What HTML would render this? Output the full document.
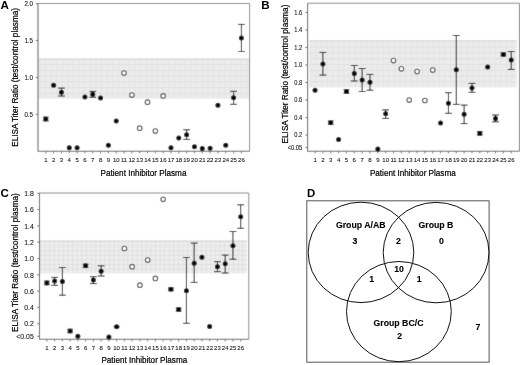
<!DOCTYPE html>
<html><head><meta charset="utf-8"><style>
html,body{margin:0;padding:0;background:#fff;width:520px;height:365px;overflow:hidden}
svg{display:block;will-change:transform}
text{font-family:"Liberation Sans", sans-serif}
</style></head><body>
<svg width="520" height="365" viewBox="0 0 520 365" font-family='"Liberation Sans", sans-serif'>
<defs><filter id="soft" x="0" y="0" width="520" height="365" filterUnits="userSpaceOnUse"><feConvolveMatrix order="3" kernelMatrix="1 2 1 2 28.0 2 1 2 1" edgeMode="duplicate"/></filter></defs>

<defs>
<pattern id="patA" x="39.5" y="58.6" width="5.6" height="5.7" patternUnits="userSpaceOnUse">
<rect width="5.6" height="5.7" fill="#ececec"/>
<rect x="0" y="0" width="5.6" height="1" fill="#dfdfdf"/>
<rect x="0" y="0" width="0.9" height="5.7" fill="#e3e3e3"/>
</pattern>
<pattern id="patB" x="310" y="40.7" width="5.6" height="5.8" patternUnits="userSpaceOnUse">
<rect width="5.6" height="5.8" fill="#ececec"/>
<rect x="0" y="0" width="5.6" height="1" fill="#dfdfdf"/>
<rect x="0" y="0" width="0.9" height="5.8" fill="#e3e3e3"/>
</pattern>
<pattern id="patC" x="40" y="240.9" width="4.6" height="4.6" patternUnits="userSpaceOnUse">
<rect width="4.6" height="4.6" fill="#eeeeee"/>
<rect x="0" y="0" width="4.6" height="1" fill="#e0e0e0"/>
<rect x="0" y="0" width="1" height="4.6" fill="#e0e0e0"/>
</pattern>
</defs>

<g filter="url(#soft)">
<rect width="520" height="365" fill="#fff"/>
<rect x="38.5" y="58.9" width="210.6" height="39.6" fill="url(#patA)"/>
<line x1="38.5" y1="58.9" x2="249.1" y2="58.9" stroke="#d0d0d0" stroke-width="0.8"/>
<path d="M38.0 3.5 H249.6 V151.2" fill="none" stroke="#8a8a8a" stroke-width="1"/>
<path d="M38.0 3.5 V151.2 H249.6" fill="none" stroke="#6a6a6a" stroke-width="1.1"/>
<line x1="35.8" y1="3.7" x2="38.0" y2="3.7" stroke="#555" stroke-width="0.9"/>
<line x1="35.8" y1="40.6" x2="38.0" y2="40.6" stroke="#555" stroke-width="0.9"/>
<line x1="35.8" y1="77.5" x2="38.0" y2="77.5" stroke="#555" stroke-width="0.9"/>
<line x1="35.8" y1="114.4" x2="38.0" y2="114.4" stroke="#555" stroke-width="0.9"/>
<line x1="45.80" y1="151.2" x2="45.80" y2="153.39999999999998" stroke="#555" stroke-width="0.8"/>
<line x1="53.62" y1="151.2" x2="53.62" y2="153.39999999999998" stroke="#555" stroke-width="0.8"/>
<line x1="61.45" y1="151.2" x2="61.45" y2="153.39999999999998" stroke="#555" stroke-width="0.8"/>
<line x1="69.27" y1="151.2" x2="69.27" y2="153.39999999999998" stroke="#555" stroke-width="0.8"/>
<line x1="77.10" y1="151.2" x2="77.10" y2="153.39999999999998" stroke="#555" stroke-width="0.8"/>
<line x1="84.92" y1="151.2" x2="84.92" y2="153.39999999999998" stroke="#555" stroke-width="0.8"/>
<line x1="92.74" y1="151.2" x2="92.74" y2="153.39999999999998" stroke="#555" stroke-width="0.8"/>
<line x1="100.57" y1="151.2" x2="100.57" y2="153.39999999999998" stroke="#555" stroke-width="0.8"/>
<line x1="108.39" y1="151.2" x2="108.39" y2="153.39999999999998" stroke="#555" stroke-width="0.8"/>
<line x1="116.22" y1="151.2" x2="116.22" y2="153.39999999999998" stroke="#555" stroke-width="0.8"/>
<line x1="124.04" y1="151.2" x2="124.04" y2="153.39999999999998" stroke="#555" stroke-width="0.8"/>
<line x1="131.86" y1="151.2" x2="131.86" y2="153.39999999999998" stroke="#555" stroke-width="0.8"/>
<line x1="139.69" y1="151.2" x2="139.69" y2="153.39999999999998" stroke="#555" stroke-width="0.8"/>
<line x1="147.51" y1="151.2" x2="147.51" y2="153.39999999999998" stroke="#555" stroke-width="0.8"/>
<line x1="155.34" y1="151.2" x2="155.34" y2="153.39999999999998" stroke="#555" stroke-width="0.8"/>
<line x1="163.16" y1="151.2" x2="163.16" y2="153.39999999999998" stroke="#555" stroke-width="0.8"/>
<line x1="170.98" y1="151.2" x2="170.98" y2="153.39999999999998" stroke="#555" stroke-width="0.8"/>
<line x1="178.81" y1="151.2" x2="178.81" y2="153.39999999999998" stroke="#555" stroke-width="0.8"/>
<line x1="186.63" y1="151.2" x2="186.63" y2="153.39999999999998" stroke="#555" stroke-width="0.8"/>
<line x1="194.46" y1="151.2" x2="194.46" y2="153.39999999999998" stroke="#555" stroke-width="0.8"/>
<line x1="202.28" y1="151.2" x2="202.28" y2="153.39999999999998" stroke="#555" stroke-width="0.8"/>
<line x1="210.10" y1="151.2" x2="210.10" y2="153.39999999999998" stroke="#555" stroke-width="0.8"/>
<line x1="217.93" y1="151.2" x2="217.93" y2="153.39999999999998" stroke="#555" stroke-width="0.8"/>
<line x1="225.75" y1="151.2" x2="225.75" y2="153.39999999999998" stroke="#555" stroke-width="0.8"/>
<line x1="233.58" y1="151.2" x2="233.58" y2="153.39999999999998" stroke="#555" stroke-width="0.8"/>
<line x1="241.40" y1="151.2" x2="241.40" y2="153.39999999999998" stroke="#555" stroke-width="0.8"/>
<path d="M45.80 117.2 V120.8 M42.90 117.2 H48.70 M42.90 120.8 H48.70" stroke="#1a1a1a" stroke-width="0.95" fill="none"/>
<circle cx="45.80" cy="119.0" r="2.5" fill="#000"/>
<circle cx="53.62" cy="85.2" r="2.5" fill="#000"/>
<path d="M61.45 88.1 V96.0 M58.05 88.1 H64.85 M58.05 96.0 H64.85" stroke="#1a1a1a" stroke-width="0.95" fill="none"/>
<circle cx="61.45" cy="92.3" r="2.5" fill="#000"/>
<circle cx="69.27" cy="147.7" r="2.5" fill="#000"/>
<circle cx="77.10" cy="147.7" r="2.5" fill="#000"/>
<circle cx="84.92" cy="96.9" r="2.5" fill="#000"/>
<path d="M92.74 91.4 V97.2 M89.34 91.4 H96.14 M89.34 97.2 H96.14" stroke="#1a1a1a" stroke-width="0.95" fill="none"/>
<circle cx="92.74" cy="94.3" r="2.5" fill="#000"/>
<circle cx="100.57" cy="98.0" r="2.5" fill="#000"/>
<circle cx="108.39" cy="145.3" r="2.5" fill="#000"/>
<circle cx="116.22" cy="120.9" r="2.5" fill="#000"/>
<circle cx="124.04" cy="73.0" r="2.3" fill="#fff" stroke="#555" stroke-width="1.1"/>
<circle cx="131.86" cy="95.1" r="2.3" fill="#fff" stroke="#555" stroke-width="1.1"/>
<circle cx="139.69" cy="128.2" r="2.3" fill="#fff" stroke="#555" stroke-width="1.1"/>
<circle cx="147.51" cy="102.2" r="2.3" fill="#fff" stroke="#555" stroke-width="1.1"/>
<circle cx="155.34" cy="131.1" r="2.3" fill="#fff" stroke="#555" stroke-width="1.1"/>
<circle cx="163.16" cy="95.9" r="2.3" fill="#fff" stroke="#555" stroke-width="1.1"/>
<circle cx="170.98" cy="147.8" r="2.5" fill="#000"/>
<circle cx="178.81" cy="138.1" r="2.5" fill="#000"/>
<path d="M186.63 129.8 V139.4 M183.23 129.8 H190.03 M183.23 139.4 H190.03" stroke="#1a1a1a" stroke-width="0.95" fill="none"/>
<circle cx="186.63" cy="134.8" r="2.5" fill="#000"/>
<circle cx="194.46" cy="146.7" r="2.5" fill="#000"/>
<circle cx="202.28" cy="148.6" r="2.5" fill="#000"/>
<circle cx="210.10" cy="148.3" r="2.5" fill="#000"/>
<circle cx="217.93" cy="105.3" r="2.5" fill="#000"/>
<circle cx="225.75" cy="145.2" r="2.5" fill="#000"/>
<path d="M233.58 91.3 V104.3 M230.18 91.3 H236.98 M230.18 104.3 H236.98" stroke="#1a1a1a" stroke-width="0.95" fill="none"/>
<circle cx="233.58" cy="97.8" r="2.5" fill="#000"/>
<path d="M241.40 24.4 V51.5 M238.00 24.4 H244.80 M238.00 51.5 H244.80" stroke="#1a1a1a" stroke-width="0.95" fill="none"/>
<circle cx="241.40" cy="37.9" r="2.5" fill="#000"/>
<rect x="309.5" y="40.7" width="207.20000000000005" height="46.599999999999994" fill="url(#patB)"/>
<line x1="309.5" y1="40.7" x2="516.7" y2="40.7" stroke="#d0d0d0" stroke-width="0.8"/>
<path d="M307.6 3.2 H519.4 V151.2" fill="none" stroke="#8a8a8a" stroke-width="1"/>
<path d="M307.6 3.2 V151.2 H519.4" fill="none" stroke="#6a6a6a" stroke-width="1.1"/>
<line x1="305.40000000000003" y1="12.5" x2="307.6" y2="12.5" stroke="#555" stroke-width="0.9"/>
<line x1="305.40000000000003" y1="30.010000000000016" x2="307.6" y2="30.010000000000016" stroke="#555" stroke-width="0.9"/>
<line x1="305.40000000000003" y1="47.52000000000001" x2="307.6" y2="47.52000000000001" stroke="#555" stroke-width="0.9"/>
<line x1="305.40000000000003" y1="65.03000000000002" x2="307.6" y2="65.03000000000002" stroke="#555" stroke-width="0.9"/>
<line x1="305.40000000000003" y1="82.54" x2="307.6" y2="82.54" stroke="#555" stroke-width="0.9"/>
<line x1="305.40000000000003" y1="100.05000000000001" x2="307.6" y2="100.05000000000001" stroke="#555" stroke-width="0.9"/>
<line x1="305.40000000000003" y1="117.56000000000003" x2="307.6" y2="117.56000000000003" stroke="#555" stroke-width="0.9"/>
<line x1="305.40000000000003" y1="135.07" x2="307.6" y2="135.07" stroke="#555" stroke-width="0.9"/>
<line x1="305.40000000000003" y1="147.4" x2="307.6" y2="147.4" stroke="#555" stroke-width="0.9"/>
<line x1="315.05" y1="151.2" x2="315.05" y2="153.39999999999998" stroke="#555" stroke-width="0.8"/>
<line x1="322.90" y1="151.2" x2="322.90" y2="153.39999999999998" stroke="#555" stroke-width="0.8"/>
<line x1="330.74" y1="151.2" x2="330.74" y2="153.39999999999998" stroke="#555" stroke-width="0.8"/>
<line x1="338.59" y1="151.2" x2="338.59" y2="153.39999999999998" stroke="#555" stroke-width="0.8"/>
<line x1="346.43" y1="151.2" x2="346.43" y2="153.39999999999998" stroke="#555" stroke-width="0.8"/>
<line x1="354.28" y1="151.2" x2="354.28" y2="153.39999999999998" stroke="#555" stroke-width="0.8"/>
<line x1="362.13" y1="151.2" x2="362.13" y2="153.39999999999998" stroke="#555" stroke-width="0.8"/>
<line x1="369.97" y1="151.2" x2="369.97" y2="153.39999999999998" stroke="#555" stroke-width="0.8"/>
<line x1="377.82" y1="151.2" x2="377.82" y2="153.39999999999998" stroke="#555" stroke-width="0.8"/>
<line x1="385.66" y1="151.2" x2="385.66" y2="153.39999999999998" stroke="#555" stroke-width="0.8"/>
<line x1="393.51" y1="151.2" x2="393.51" y2="153.39999999999998" stroke="#555" stroke-width="0.8"/>
<line x1="401.36" y1="151.2" x2="401.36" y2="153.39999999999998" stroke="#555" stroke-width="0.8"/>
<line x1="409.20" y1="151.2" x2="409.20" y2="153.39999999999998" stroke="#555" stroke-width="0.8"/>
<line x1="417.05" y1="151.2" x2="417.05" y2="153.39999999999998" stroke="#555" stroke-width="0.8"/>
<line x1="424.89" y1="151.2" x2="424.89" y2="153.39999999999998" stroke="#555" stroke-width="0.8"/>
<line x1="432.74" y1="151.2" x2="432.74" y2="153.39999999999998" stroke="#555" stroke-width="0.8"/>
<line x1="440.59" y1="151.2" x2="440.59" y2="153.39999999999998" stroke="#555" stroke-width="0.8"/>
<line x1="448.43" y1="151.2" x2="448.43" y2="153.39999999999998" stroke="#555" stroke-width="0.8"/>
<line x1="456.28" y1="151.2" x2="456.28" y2="153.39999999999998" stroke="#555" stroke-width="0.8"/>
<line x1="464.12" y1="151.2" x2="464.12" y2="153.39999999999998" stroke="#555" stroke-width="0.8"/>
<line x1="471.97" y1="151.2" x2="471.97" y2="153.39999999999998" stroke="#555" stroke-width="0.8"/>
<line x1="479.82" y1="151.2" x2="479.82" y2="153.39999999999998" stroke="#555" stroke-width="0.8"/>
<line x1="487.66" y1="151.2" x2="487.66" y2="153.39999999999998" stroke="#555" stroke-width="0.8"/>
<line x1="495.51" y1="151.2" x2="495.51" y2="153.39999999999998" stroke="#555" stroke-width="0.8"/>
<line x1="503.35" y1="151.2" x2="503.35" y2="153.39999999999998" stroke="#555" stroke-width="0.8"/>
<line x1="511.20" y1="151.2" x2="511.20" y2="153.39999999999998" stroke="#555" stroke-width="0.8"/>
<circle cx="315.05" cy="90.2" r="2.5" fill="#000"/>
<path d="M322.90 52.4 V75.1 M319.50 52.4 H326.30 M319.50 75.1 H326.30" stroke="#1a1a1a" stroke-width="0.95" fill="none"/>
<circle cx="322.90" cy="63.9" r="2.5" fill="#000"/>
<path d="M330.74 121.0 V124.4 M327.84 121.0 H333.64 M327.84 124.4 H333.64" stroke="#1a1a1a" stroke-width="0.95" fill="none"/>
<circle cx="330.74" cy="122.7" r="2.5" fill="#000"/>
<circle cx="338.59" cy="139.4" r="2.5" fill="#000"/>
<path d="M346.43 89.8 V93.2 M343.53 89.8 H349.33 M343.53 93.2 H349.33" stroke="#1a1a1a" stroke-width="0.95" fill="none"/>
<circle cx="346.43" cy="91.5" r="2.5" fill="#000"/>
<path d="M354.28 65.5 V81.0 M350.88 65.5 H357.68 M350.88 81.0 H357.68" stroke="#1a1a1a" stroke-width="0.95" fill="none"/>
<circle cx="354.28" cy="73.4" r="2.5" fill="#000"/>
<path d="M362.13 68.5 V91.5 M358.73 68.5 H365.53 M358.73 91.5 H365.53" stroke="#1a1a1a" stroke-width="0.95" fill="none"/>
<circle cx="362.13" cy="80.0" r="2.5" fill="#000"/>
<path d="M369.97 74.4 V90.2 M366.57 74.4 H373.37 M366.57 90.2 H373.37" stroke="#1a1a1a" stroke-width="0.95" fill="none"/>
<circle cx="369.97" cy="82.3" r="2.5" fill="#000"/>
<circle cx="377.82" cy="149.0" r="2.5" fill="#000"/>
<path d="M385.66 109.9 V118.4 M382.26 109.9 H389.06 M382.26 118.4 H389.06" stroke="#1a1a1a" stroke-width="0.95" fill="none"/>
<circle cx="385.66" cy="113.8" r="2.5" fill="#000"/>
<circle cx="393.51" cy="60.6" r="2.3" fill="#fff" stroke="#555" stroke-width="1.1"/>
<circle cx="401.36" cy="68.8" r="2.3" fill="#fff" stroke="#555" stroke-width="1.1"/>
<circle cx="409.20" cy="100.1" r="2.3" fill="#fff" stroke="#555" stroke-width="1.1"/>
<circle cx="417.05" cy="71.5" r="2.3" fill="#fff" stroke="#555" stroke-width="1.1"/>
<circle cx="424.89" cy="100.5" r="2.3" fill="#fff" stroke="#555" stroke-width="1.1"/>
<circle cx="432.74" cy="70.1" r="2.3" fill="#fff" stroke="#555" stroke-width="1.1"/>
<circle cx="440.59" cy="122.9" r="2.5" fill="#000"/>
<path d="M448.43 92.7 V113.3 M445.03 92.7 H451.83 M445.03 113.3 H451.83" stroke="#1a1a1a" stroke-width="0.95" fill="none"/>
<circle cx="448.43" cy="103.3" r="2.5" fill="#000"/>
<path d="M456.28 35.5 V104.4 M452.88 35.5 H459.68 M452.88 104.4 H459.68" stroke="#1a1a1a" stroke-width="0.95" fill="none"/>
<circle cx="456.28" cy="69.7" r="2.5" fill="#000"/>
<path d="M464.12 105.1 V123.6 M460.72 105.1 H467.52 M460.72 123.6 H467.52" stroke="#1a1a1a" stroke-width="0.95" fill="none"/>
<circle cx="464.12" cy="114.2" r="2.5" fill="#000"/>
<path d="M471.97 83.4 V92.3 M468.57 83.4 H475.37 M468.57 92.3 H475.37" stroke="#1a1a1a" stroke-width="0.95" fill="none"/>
<circle cx="471.97" cy="88.0" r="2.5" fill="#000"/>
<path d="M479.82 131.5 V135.1 M476.92 131.5 H482.72 M476.92 135.1 H482.72" stroke="#1a1a1a" stroke-width="0.95" fill="none"/>
<circle cx="479.82" cy="133.3" r="2.5" fill="#000"/>
<circle cx="487.66" cy="67.0" r="2.5" fill="#000"/>
<path d="M495.51 115.0 V121.8 M492.11 115.0 H498.91 M492.11 121.8 H498.91" stroke="#1a1a1a" stroke-width="0.95" fill="none"/>
<circle cx="495.51" cy="118.4" r="2.5" fill="#000"/>
<path d="M503.35 52.9 V55.9 M500.45 52.9 H506.25 M500.45 55.9 H506.25" stroke="#1a1a1a" stroke-width="0.95" fill="none"/>
<circle cx="503.35" cy="54.4" r="2.5" fill="#000"/>
<path d="M511.20 51.5 V69.4 M507.80 51.5 H514.60 M507.80 69.4 H514.60" stroke="#1a1a1a" stroke-width="0.95" fill="none"/>
<circle cx="511.20" cy="59.9" r="2.5" fill="#000"/>
<rect x="40.0" y="240.9" width="207.0" height="32.400000000000006" fill="url(#patC)"/>
<line x1="40.0" y1="240.9" x2="247.0" y2="240.9" stroke="#d0d0d0" stroke-width="0.8"/>
<path d="M39.5 193.0 H248.8 V339.3" fill="none" stroke="#8a8a8a" stroke-width="1"/>
<path d="M39.5 193.0 V339.3 H248.8" fill="none" stroke="#6a6a6a" stroke-width="1.1"/>
<line x1="37.3" y1="193.3" x2="39.5" y2="193.3" stroke="#555" stroke-width="0.9"/>
<line x1="37.3" y1="209.60000000000002" x2="39.5" y2="209.60000000000002" stroke="#555" stroke-width="0.9"/>
<line x1="37.3" y1="225.90000000000003" x2="39.5" y2="225.90000000000003" stroke="#555" stroke-width="0.9"/>
<line x1="37.3" y1="242.20000000000002" x2="39.5" y2="242.20000000000002" stroke="#555" stroke-width="0.9"/>
<line x1="37.3" y1="258.5" x2="39.5" y2="258.5" stroke="#555" stroke-width="0.9"/>
<line x1="37.3" y1="274.8" x2="39.5" y2="274.8" stroke="#555" stroke-width="0.9"/>
<line x1="37.3" y1="291.1" x2="39.5" y2="291.1" stroke="#555" stroke-width="0.9"/>
<line x1="37.3" y1="307.4" x2="39.5" y2="307.4" stroke="#555" stroke-width="0.9"/>
<line x1="37.3" y1="323.70000000000005" x2="39.5" y2="323.70000000000005" stroke="#555" stroke-width="0.9"/>
<line x1="37.3" y1="336.3" x2="39.5" y2="336.3" stroke="#555" stroke-width="0.9"/>
<line x1="46.85" y1="339.3" x2="46.85" y2="341.5" stroke="#555" stroke-width="0.8"/>
<line x1="54.60" y1="339.3" x2="54.60" y2="341.5" stroke="#555" stroke-width="0.8"/>
<line x1="62.36" y1="339.3" x2="62.36" y2="341.5" stroke="#555" stroke-width="0.8"/>
<line x1="70.11" y1="339.3" x2="70.11" y2="341.5" stroke="#555" stroke-width="0.8"/>
<line x1="77.87" y1="339.3" x2="77.87" y2="341.5" stroke="#555" stroke-width="0.8"/>
<line x1="85.62" y1="339.3" x2="85.62" y2="341.5" stroke="#555" stroke-width="0.8"/>
<line x1="93.37" y1="339.3" x2="93.37" y2="341.5" stroke="#555" stroke-width="0.8"/>
<line x1="101.13" y1="339.3" x2="101.13" y2="341.5" stroke="#555" stroke-width="0.8"/>
<line x1="108.88" y1="339.3" x2="108.88" y2="341.5" stroke="#555" stroke-width="0.8"/>
<line x1="116.64" y1="339.3" x2="116.64" y2="341.5" stroke="#555" stroke-width="0.8"/>
<line x1="124.39" y1="339.3" x2="124.39" y2="341.5" stroke="#555" stroke-width="0.8"/>
<line x1="132.14" y1="339.3" x2="132.14" y2="341.5" stroke="#555" stroke-width="0.8"/>
<line x1="139.90" y1="339.3" x2="139.90" y2="341.5" stroke="#555" stroke-width="0.8"/>
<line x1="147.65" y1="339.3" x2="147.65" y2="341.5" stroke="#555" stroke-width="0.8"/>
<line x1="155.41" y1="339.3" x2="155.41" y2="341.5" stroke="#555" stroke-width="0.8"/>
<line x1="163.16" y1="339.3" x2="163.16" y2="341.5" stroke="#555" stroke-width="0.8"/>
<line x1="170.91" y1="339.3" x2="170.91" y2="341.5" stroke="#555" stroke-width="0.8"/>
<line x1="178.67" y1="339.3" x2="178.67" y2="341.5" stroke="#555" stroke-width="0.8"/>
<line x1="186.42" y1="339.3" x2="186.42" y2="341.5" stroke="#555" stroke-width="0.8"/>
<line x1="194.18" y1="339.3" x2="194.18" y2="341.5" stroke="#555" stroke-width="0.8"/>
<line x1="201.93" y1="339.3" x2="201.93" y2="341.5" stroke="#555" stroke-width="0.8"/>
<line x1="209.68" y1="339.3" x2="209.68" y2="341.5" stroke="#555" stroke-width="0.8"/>
<line x1="217.44" y1="339.3" x2="217.44" y2="341.5" stroke="#555" stroke-width="0.8"/>
<line x1="225.19" y1="339.3" x2="225.19" y2="341.5" stroke="#555" stroke-width="0.8"/>
<line x1="232.95" y1="339.3" x2="232.95" y2="341.5" stroke="#555" stroke-width="0.8"/>
<line x1="240.70" y1="339.3" x2="240.70" y2="341.5" stroke="#555" stroke-width="0.8"/>
<path d="M46.85 281.1 V284.7 M43.95 281.1 H49.75 M43.95 284.7 H49.75" stroke="#1a1a1a" stroke-width="0.95" fill="none"/>
<circle cx="46.85" cy="282.9" r="2.5" fill="#000"/>
<path d="M54.60 277.4 V285.3 M51.20 277.4 H58.00 M51.20 285.3 H58.00" stroke="#1a1a1a" stroke-width="0.95" fill="none"/>
<circle cx="54.60" cy="281.1" r="2.5" fill="#000"/>
<path d="M62.36 267.5 V295.2 M58.96 267.5 H65.76 M58.96 295.2 H65.76" stroke="#1a1a1a" stroke-width="0.95" fill="none"/>
<circle cx="62.36" cy="281.5" r="2.5" fill="#000"/>
<path d="M70.11 329.3 V332.7 M67.21 329.3 H73.01 M67.21 332.7 H73.01" stroke="#1a1a1a" stroke-width="0.95" fill="none"/>
<circle cx="70.11" cy="331.0" r="2.5" fill="#000"/>
<circle cx="77.87" cy="336.2" r="2.5" fill="#000"/>
<path d="M85.62 264.2 V267.4 M82.72 264.2 H88.52 M82.72 267.4 H88.52" stroke="#1a1a1a" stroke-width="0.95" fill="none"/>
<circle cx="85.62" cy="265.8" r="2.5" fill="#000"/>
<path d="M93.37 276.7 V283.6 M89.97 276.7 H96.77 M89.97 283.6 H96.77" stroke="#1a1a1a" stroke-width="0.95" fill="none"/>
<circle cx="93.37" cy="280.1" r="2.5" fill="#000"/>
<path d="M101.13 265.8 V276.0 M97.73 265.8 H104.53 M97.73 276.0 H104.53" stroke="#1a1a1a" stroke-width="0.95" fill="none"/>
<circle cx="101.13" cy="271.2" r="2.5" fill="#000"/>
<circle cx="108.88" cy="337.0" r="2.5" fill="#000"/>
<path d="M116.64 326.2 V327.2 M113.74 326.2 H119.54 M113.74 327.2 H119.54" stroke="#1a1a1a" stroke-width="0.95" fill="none"/>
<circle cx="116.64" cy="326.7" r="2.5" fill="#000"/>
<circle cx="124.39" cy="248.5" r="2.3" fill="#fff" stroke="#555" stroke-width="1.1"/>
<circle cx="132.14" cy="266.7" r="2.3" fill="#fff" stroke="#555" stroke-width="1.1"/>
<circle cx="139.90" cy="285.2" r="2.3" fill="#fff" stroke="#555" stroke-width="1.1"/>
<circle cx="147.65" cy="260.1" r="2.3" fill="#fff" stroke="#555" stroke-width="1.1"/>
<circle cx="155.41" cy="278.4" r="2.3" fill="#fff" stroke="#555" stroke-width="1.1"/>
<circle cx="163.16" cy="199.3" r="2.3" fill="#fff" stroke="#555" stroke-width="1.1"/>
<path d="M170.91 287.9 V290.7 M168.01 287.9 H173.81 M168.01 290.7 H173.81" stroke="#1a1a1a" stroke-width="0.95" fill="none"/>
<circle cx="170.91" cy="289.3" r="2.5" fill="#000"/>
<path d="M178.67 308.0 V311.2 M175.77 308.0 H181.57 M175.77 311.2 H181.57" stroke="#1a1a1a" stroke-width="0.95" fill="none"/>
<circle cx="178.67" cy="309.6" r="2.5" fill="#000"/>
<path d="M186.42 257.5 V323.3 M183.02 257.5 H189.82 M183.02 323.3 H189.82" stroke="#1a1a1a" stroke-width="0.95" fill="none"/>
<circle cx="186.42" cy="290.8" r="2.5" fill="#000"/>
<path d="M194.18 243.1 V282.4 M190.78 243.1 H197.58 M190.78 282.4 H197.58" stroke="#1a1a1a" stroke-width="0.95" fill="none"/>
<circle cx="194.18" cy="263.2" r="2.5" fill="#000"/>
<circle cx="201.93" cy="257.3" r="2.5" fill="#000"/>
<circle cx="209.68" cy="326.5" r="2.5" fill="#000"/>
<path d="M217.44 261.7 V271.7 M214.04 261.7 H220.84 M214.04 271.7 H220.84" stroke="#1a1a1a" stroke-width="0.95" fill="none"/>
<circle cx="217.44" cy="266.7" r="2.5" fill="#000"/>
<path d="M225.19 255.1 V273.0 M221.79 255.1 H228.59 M221.79 273.0 H228.59" stroke="#1a1a1a" stroke-width="0.95" fill="none"/>
<circle cx="225.19" cy="263.7" r="2.5" fill="#000"/>
<path d="M232.95 231.5 V259.2 M229.55 231.5 H236.35 M229.55 259.2 H236.35" stroke="#1a1a1a" stroke-width="0.95" fill="none"/>
<circle cx="232.95" cy="245.7" r="2.5" fill="#000"/>
<path d="M240.70 204.8 V228.3 M237.30 204.8 H244.10 M237.30 228.3 H244.10" stroke="#1a1a1a" stroke-width="0.95" fill="none"/>
<circle cx="240.70" cy="216.7" r="2.5" fill="#000"/>
</g>
<rect x="306.8" y="200.8" width="182.3" height="161.4" fill="none" stroke="#555" stroke-width="1"/>
<g fill="none" stroke="#111" stroke-width="1.0"><ellipse cx="361" cy="252.4" rx="52.8" ry="50.2"/><ellipse cx="436.1" cy="252.6" rx="52.9" ry="50.2"/><ellipse cx="398.9" cy="311.6" rx="52.4" ry="50.1"/></g>

<text transform="translate(33.0 6.00) scale(1 1.17)" font-size="6.2" text-anchor="end" fill="#222" stroke="#222" stroke-width="0.1">2.0</text>
<text transform="translate(33.0 42.90) scale(1 1.17)" font-size="6.2" text-anchor="end" fill="#222" stroke="#222" stroke-width="0.1">1.5</text>
<text transform="translate(33.0 79.80) scale(1 1.17)" font-size="6.2" text-anchor="end" fill="#222" stroke="#222" stroke-width="0.1">1.0</text>
<text transform="translate(33.0 116.70) scale(1 1.17)" font-size="6.2" text-anchor="end" fill="#222" stroke="#222" stroke-width="0.1">0.5</text>
<text x="45.80" y="161.8" font-size="6" text-anchor="middle" fill="#222" stroke="#222" stroke-width="0.1">1</text>
<text x="53.62" y="161.8" font-size="6" text-anchor="middle" fill="#222" stroke="#222" stroke-width="0.1">2</text>
<text x="61.45" y="161.8" font-size="6" text-anchor="middle" fill="#222" stroke="#222" stroke-width="0.1">3</text>
<text x="69.27" y="161.8" font-size="6" text-anchor="middle" fill="#222" stroke="#222" stroke-width="0.1">4</text>
<text x="77.10" y="161.8" font-size="6" text-anchor="middle" fill="#222" stroke="#222" stroke-width="0.1">5</text>
<text x="84.92" y="161.8" font-size="6" text-anchor="middle" fill="#222" stroke="#222" stroke-width="0.1">6</text>
<text x="92.74" y="161.8" font-size="6" text-anchor="middle" fill="#222" stroke="#222" stroke-width="0.1">7</text>
<text x="100.57" y="161.8" font-size="6" text-anchor="middle" fill="#222" stroke="#222" stroke-width="0.1">8</text>
<text x="108.39" y="161.8" font-size="6" text-anchor="middle" fill="#222" stroke="#222" stroke-width="0.1">9</text>
<text x="116.22" y="161.8" font-size="6" text-anchor="middle" fill="#222" stroke="#222" stroke-width="0.1">10</text>
<text x="124.04" y="161.8" font-size="6" text-anchor="middle" fill="#222" stroke="#222" stroke-width="0.1">11</text>
<text x="131.86" y="161.8" font-size="6" text-anchor="middle" fill="#222" stroke="#222" stroke-width="0.1">12</text>
<text x="139.69" y="161.8" font-size="6" text-anchor="middle" fill="#222" stroke="#222" stroke-width="0.1">13</text>
<text x="147.51" y="161.8" font-size="6" text-anchor="middle" fill="#222" stroke="#222" stroke-width="0.1">14</text>
<text x="155.34" y="161.8" font-size="6" text-anchor="middle" fill="#222" stroke="#222" stroke-width="0.1">15</text>
<text x="163.16" y="161.8" font-size="6" text-anchor="middle" fill="#222" stroke="#222" stroke-width="0.1">16</text>
<text x="170.98" y="161.8" font-size="6" text-anchor="middle" fill="#222" stroke="#222" stroke-width="0.1">17</text>
<text x="178.81" y="161.8" font-size="6" text-anchor="middle" fill="#222" stroke="#222" stroke-width="0.1">18</text>
<text x="186.63" y="161.8" font-size="6" text-anchor="middle" fill="#222" stroke="#222" stroke-width="0.1">19</text>
<text x="194.46" y="161.8" font-size="6" text-anchor="middle" fill="#222" stroke="#222" stroke-width="0.1">20</text>
<text x="202.28" y="161.8" font-size="6" text-anchor="middle" fill="#222" stroke="#222" stroke-width="0.1">21</text>
<text x="210.10" y="161.8" font-size="6" text-anchor="middle" fill="#222" stroke="#222" stroke-width="0.1">22</text>
<text x="217.93" y="161.8" font-size="6" text-anchor="middle" fill="#222" stroke="#222" stroke-width="0.1">23</text>
<text x="225.75" y="161.8" font-size="6" text-anchor="middle" fill="#222" stroke="#222" stroke-width="0.1">24</text>
<text x="233.58" y="161.8" font-size="6" text-anchor="middle" fill="#222" stroke="#222" stroke-width="0.1">25</text>
<text x="241.40" y="161.8" font-size="6" text-anchor="middle" fill="#222" stroke="#222" stroke-width="0.1">26</text>
<text x="100.6" y="175.5" font-size="8.15" fill="#000" stroke="#000" stroke-width="0.2">Patient Inhibitor Plasma</text>
<text transform="translate(18.4 146.8) rotate(-90)" x="0" y="0" font-size="8.2" fill="#000" stroke="#000" stroke-width="0.2">ELISA Titer Ratio (test/control plasma)</text>
<text x="0.5" y="8.7" font-size="11.6" font-weight="bold" fill="#000">A</text>
<text transform="translate(302.2 14.74) scale(1 1.1)" font-size="5.7" text-anchor="end" fill="#222" stroke="#222" stroke-width="0.1">1.6</text>
<text transform="translate(302.2 32.25) scale(1 1.1)" font-size="5.7" text-anchor="end" fill="#222" stroke="#222" stroke-width="0.1">1.4</text>
<text transform="translate(302.2 49.76) scale(1 1.1)" font-size="5.7" text-anchor="end" fill="#222" stroke="#222" stroke-width="0.1">1.2</text>
<text transform="translate(302.2 67.27) scale(1 1.1)" font-size="5.7" text-anchor="end" fill="#222" stroke="#222" stroke-width="0.1">1.0</text>
<text transform="translate(302.2 84.78) scale(1 1.1)" font-size="5.7" text-anchor="end" fill="#222" stroke="#222" stroke-width="0.1">0.8</text>
<text transform="translate(302.2 102.29) scale(1 1.1)" font-size="5.7" text-anchor="end" fill="#222" stroke="#222" stroke-width="0.1">0.6</text>
<text transform="translate(302.2 119.80) scale(1 1.1)" font-size="5.7" text-anchor="end" fill="#222" stroke="#222" stroke-width="0.1">0.4</text>
<text transform="translate(302.2 137.31) scale(1 1.1)" font-size="5.7" text-anchor="end" fill="#222" stroke="#222" stroke-width="0.1">0.2</text>
<text transform="translate(302.2 149.64) scale(1 1.1)" font-size="5.7" text-anchor="end" fill="#222" stroke="#222" stroke-width="0.1">&lt;0.05</text>
<text x="315.05" y="161.6" font-size="6" text-anchor="middle" fill="#222" stroke="#222" stroke-width="0.1">1</text>
<text x="322.90" y="161.6" font-size="6" text-anchor="middle" fill="#222" stroke="#222" stroke-width="0.1">2</text>
<text x="330.74" y="161.6" font-size="6" text-anchor="middle" fill="#222" stroke="#222" stroke-width="0.1">3</text>
<text x="338.59" y="161.6" font-size="6" text-anchor="middle" fill="#222" stroke="#222" stroke-width="0.1">4</text>
<text x="346.43" y="161.6" font-size="6" text-anchor="middle" fill="#222" stroke="#222" stroke-width="0.1">5</text>
<text x="354.28" y="161.6" font-size="6" text-anchor="middle" fill="#222" stroke="#222" stroke-width="0.1">6</text>
<text x="362.13" y="161.6" font-size="6" text-anchor="middle" fill="#222" stroke="#222" stroke-width="0.1">7</text>
<text x="369.97" y="161.6" font-size="6" text-anchor="middle" fill="#222" stroke="#222" stroke-width="0.1">8</text>
<text x="377.82" y="161.6" font-size="6" text-anchor="middle" fill="#222" stroke="#222" stroke-width="0.1">9</text>
<text x="385.66" y="161.6" font-size="6" text-anchor="middle" fill="#222" stroke="#222" stroke-width="0.1">10</text>
<text x="393.51" y="161.6" font-size="6" text-anchor="middle" fill="#222" stroke="#222" stroke-width="0.1">11</text>
<text x="401.36" y="161.6" font-size="6" text-anchor="middle" fill="#222" stroke="#222" stroke-width="0.1">12</text>
<text x="409.20" y="161.6" font-size="6" text-anchor="middle" fill="#222" stroke="#222" stroke-width="0.1">13</text>
<text x="417.05" y="161.6" font-size="6" text-anchor="middle" fill="#222" stroke="#222" stroke-width="0.1">14</text>
<text x="424.89" y="161.6" font-size="6" text-anchor="middle" fill="#222" stroke="#222" stroke-width="0.1">15</text>
<text x="432.74" y="161.6" font-size="6" text-anchor="middle" fill="#222" stroke="#222" stroke-width="0.1">16</text>
<text x="440.59" y="161.6" font-size="6" text-anchor="middle" fill="#222" stroke="#222" stroke-width="0.1">17</text>
<text x="448.43" y="161.6" font-size="6" text-anchor="middle" fill="#222" stroke="#222" stroke-width="0.1">18</text>
<text x="456.28" y="161.6" font-size="6" text-anchor="middle" fill="#222" stroke="#222" stroke-width="0.1">19</text>
<text x="464.12" y="161.6" font-size="6" text-anchor="middle" fill="#222" stroke="#222" stroke-width="0.1">20</text>
<text x="471.97" y="161.6" font-size="6" text-anchor="middle" fill="#222" stroke="#222" stroke-width="0.1">21</text>
<text x="479.82" y="161.6" font-size="6" text-anchor="middle" fill="#222" stroke="#222" stroke-width="0.1">22</text>
<text x="487.66" y="161.6" font-size="6" text-anchor="middle" fill="#222" stroke="#222" stroke-width="0.1">23</text>
<text x="495.51" y="161.6" font-size="6" text-anchor="middle" fill="#222" stroke="#222" stroke-width="0.1">24</text>
<text x="503.35" y="161.6" font-size="6" text-anchor="middle" fill="#222" stroke="#222" stroke-width="0.1">25</text>
<text x="511.20" y="161.6" font-size="6" text-anchor="middle" fill="#222" stroke="#222" stroke-width="0.1">26</text>
<text x="369.9" y="175.8" font-size="8.15" fill="#000" stroke="#000" stroke-width="0.2">Patient Inhibitor Plasma</text>
<text transform="translate(287.8 143.4) rotate(-90)" x="0" y="0" font-size="8.2" fill="#000" stroke="#000" stroke-width="0.2">ELISA Titer Ratio (test/control plasma)</text>
<text x="261.2" y="8.8" font-size="11.6" font-weight="bold" fill="#000">B</text>
<text transform="translate(33.8 196.02) scale(1 1.1)" font-size="6.9" text-anchor="end" fill="#222" stroke="#222" stroke-width="0.1">1.8</text>
<text transform="translate(33.8 212.32) scale(1 1.1)" font-size="6.9" text-anchor="end" fill="#222" stroke="#222" stroke-width="0.1">1.6</text>
<text transform="translate(33.8 228.62) scale(1 1.1)" font-size="6.9" text-anchor="end" fill="#222" stroke="#222" stroke-width="0.1">1.4</text>
<text transform="translate(33.8 244.92) scale(1 1.1)" font-size="6.9" text-anchor="end" fill="#222" stroke="#222" stroke-width="0.1">1.2</text>
<text transform="translate(33.8 261.22) scale(1 1.1)" font-size="6.9" text-anchor="end" fill="#222" stroke="#222" stroke-width="0.1">1.0</text>
<text transform="translate(33.8 277.52) scale(1 1.1)" font-size="6.9" text-anchor="end" fill="#222" stroke="#222" stroke-width="0.1">0.8</text>
<text transform="translate(33.8 293.82) scale(1 1.1)" font-size="6.9" text-anchor="end" fill="#222" stroke="#222" stroke-width="0.1">0.6</text>
<text transform="translate(33.8 310.12) scale(1 1.1)" font-size="6.9" text-anchor="end" fill="#222" stroke="#222" stroke-width="0.1">0.4</text>
<text transform="translate(33.8 326.42) scale(1 1.1)" font-size="6.9" text-anchor="end" fill="#222" stroke="#222" stroke-width="0.1">0.2</text>
<text transform="translate(33.8 339.02) scale(1 1.1)" font-size="6.9" text-anchor="end" fill="#222" stroke="#222" stroke-width="0.1">&lt;0.05</text>
<text x="46.85" y="350.0" font-size="6" text-anchor="middle" fill="#222" stroke="#222" stroke-width="0.1">1</text>
<text x="54.60" y="350.0" font-size="6" text-anchor="middle" fill="#222" stroke="#222" stroke-width="0.1">2</text>
<text x="62.36" y="350.0" font-size="6" text-anchor="middle" fill="#222" stroke="#222" stroke-width="0.1">3</text>
<text x="70.11" y="350.0" font-size="6" text-anchor="middle" fill="#222" stroke="#222" stroke-width="0.1">4</text>
<text x="77.87" y="350.0" font-size="6" text-anchor="middle" fill="#222" stroke="#222" stroke-width="0.1">5</text>
<text x="85.62" y="350.0" font-size="6" text-anchor="middle" fill="#222" stroke="#222" stroke-width="0.1">6</text>
<text x="93.37" y="350.0" font-size="6" text-anchor="middle" fill="#222" stroke="#222" stroke-width="0.1">7</text>
<text x="101.13" y="350.0" font-size="6" text-anchor="middle" fill="#222" stroke="#222" stroke-width="0.1">8</text>
<text x="108.88" y="350.0" font-size="6" text-anchor="middle" fill="#222" stroke="#222" stroke-width="0.1">9</text>
<text x="116.64" y="350.0" font-size="6" text-anchor="middle" fill="#222" stroke="#222" stroke-width="0.1">10</text>
<text x="124.39" y="350.0" font-size="6" text-anchor="middle" fill="#222" stroke="#222" stroke-width="0.1">11</text>
<text x="132.14" y="350.0" font-size="6" text-anchor="middle" fill="#222" stroke="#222" stroke-width="0.1">12</text>
<text x="139.90" y="350.0" font-size="6" text-anchor="middle" fill="#222" stroke="#222" stroke-width="0.1">13</text>
<text x="147.65" y="350.0" font-size="6" text-anchor="middle" fill="#222" stroke="#222" stroke-width="0.1">14</text>
<text x="155.41" y="350.0" font-size="6" text-anchor="middle" fill="#222" stroke="#222" stroke-width="0.1">15</text>
<text x="163.16" y="350.0" font-size="6" text-anchor="middle" fill="#222" stroke="#222" stroke-width="0.1">16</text>
<text x="170.91" y="350.0" font-size="6" text-anchor="middle" fill="#222" stroke="#222" stroke-width="0.1">17</text>
<text x="178.67" y="350.0" font-size="6" text-anchor="middle" fill="#222" stroke="#222" stroke-width="0.1">18</text>
<text x="186.42" y="350.0" font-size="6" text-anchor="middle" fill="#222" stroke="#222" stroke-width="0.1">19</text>
<text x="194.18" y="350.0" font-size="6" text-anchor="middle" fill="#222" stroke="#222" stroke-width="0.1">20</text>
<text x="201.93" y="350.0" font-size="6" text-anchor="middle" fill="#222" stroke="#222" stroke-width="0.1">21</text>
<text x="209.68" y="350.0" font-size="6" text-anchor="middle" fill="#222" stroke="#222" stroke-width="0.1">22</text>
<text x="217.44" y="350.0" font-size="6" text-anchor="middle" fill="#222" stroke="#222" stroke-width="0.1">23</text>
<text x="225.19" y="350.0" font-size="6" text-anchor="middle" fill="#222" stroke="#222" stroke-width="0.1">24</text>
<text x="232.95" y="350.0" font-size="6" text-anchor="middle" fill="#222" stroke="#222" stroke-width="0.1">25</text>
<text x="240.70" y="350.0" font-size="6" text-anchor="middle" fill="#222" stroke="#222" stroke-width="0.1">26</text>
<text x="101.4" y="363.3" font-size="8.15" fill="#000" stroke="#000" stroke-width="0.2">Patient Inhibitor Plasma</text>
<text transform="translate(17.6 332.0) rotate(-90)" x="0" y="0" font-size="8.2" fill="#000" stroke="#000" stroke-width="0.2">ELISA Titer Ratio (test/control plasma)</text>
<text x="0.4" y="196.8" font-size="11.6" font-weight="bold" fill="#000">C</text>
<text x="307.1" y="196.9" font-size="11.4" font-weight="bold" fill="#000">D</text>
<text transform="translate(335.9 227.7) scale(1 1.12)" font-size="8.75" font-weight="bold" fill="#000" stroke="#000" stroke-width="0.1" text-anchor="start">Group A/AB</text><text transform="translate(418.5 228.1) scale(1 1.12)" font-size="8.75" font-weight="bold" fill="#000" stroke="#000" stroke-width="0.1" text-anchor="start">Group B</text><text transform="translate(373.5 325.8) scale(1 1.12)" font-size="8.75" font-weight="bold" fill="#000" stroke="#000" stroke-width="0.1" text-anchor="start">Group BC/C</text><text transform="translate(355 244.3) scale(1 1.12)" font-size="8.75" font-weight="bold" fill="#000" stroke="#000" stroke-width="0.1" text-anchor="middle">3</text><text transform="translate(398.5 244.4) scale(1 1.12)" font-size="8.75" font-weight="bold" fill="#000" stroke="#000" stroke-width="0.1" text-anchor="middle">2</text><text transform="translate(441.5 244.3) scale(1 1.12)" font-size="8.75" font-weight="bold" fill="#000" stroke="#000" stroke-width="0.1" text-anchor="middle">0</text><text transform="translate(399.1 272.4) scale(1 1.12)" font-size="8.75" font-weight="bold" fill="#000" stroke="#000" stroke-width="0.1" text-anchor="middle">10</text><text transform="translate(371.6 282.2) scale(1 1.12)" font-size="8.75" font-weight="bold" fill="#000" stroke="#000" stroke-width="0.1" text-anchor="middle">1</text><text transform="translate(419.1 282.1) scale(1 1.12)" font-size="8.75" font-weight="bold" fill="#000" stroke="#000" stroke-width="0.1" text-anchor="middle">1</text><text transform="translate(399.7 338.9) scale(1 1.12)" font-size="8.75" font-weight="bold" fill="#000" stroke="#000" stroke-width="0.1" text-anchor="middle">2</text><text transform="translate(477.9 329.9) scale(1 1.12)" font-size="8.75" font-weight="bold" fill="#000" stroke="#000" stroke-width="0.1" text-anchor="middle">7</text>
</svg>
</body></html>
